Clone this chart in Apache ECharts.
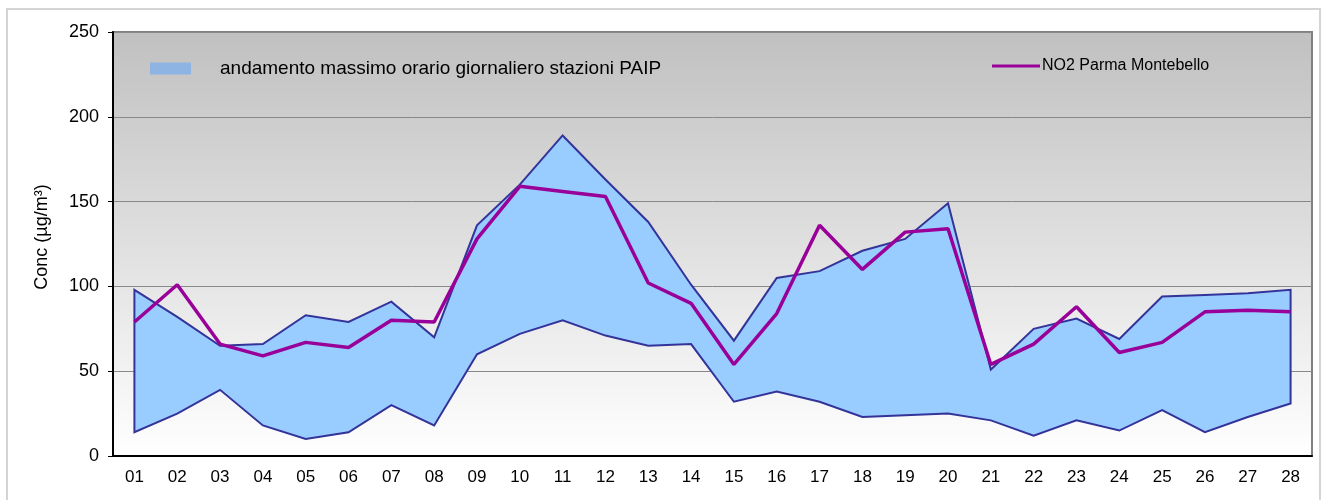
<!DOCTYPE html>
<html>
<head>
    <meta charset="UTF-8">
    <title>NO2 Parma Montebello</title>
    <script type="text/javascript" src="https://cdn.jsdelivr.net/npm/echarts@6/dist/echarts.min.js"></script>
    <style>
        *{margin:0;padding:0}
        html,body{
            width:100%;
            height:100%;
            background:#fff;
        }
        #frame{
            position:absolute;
            left:6px;
            top:8px;
            width:1311px;
            height:500px;
            border:2px solid #d4d4d4;
        }
        #main{
            position:absolute;
            left:0;
            top:0;
            width:1322px;
            height:500px;
        }
    </style>
</head>
<body>
<div id="frame"></div>
<div id="main"></div>

<script type="text/javascript">
    // giorni del mese
    var giorni = ['01','02','03','04','05','06','07','08','09','10','11','12','13','14',
                  '15','16','17','18','19','20','21','22','23','24','25','26','27','28'];
    // massimo orario giornaliero stazioni PAIP: valore massimo e minimo tra le stazioni
    var maxPaip = [98, 82, 65, 66, 83, 79, 91, 70, 136, 160, 189, 163, 138, 101,
                   68, 105, 109, 121, 128, 149, 51, 75, 81, 69, 94, 95, 96, 98];
    var minPaip = [14, 25, 39, 18, 10, 14, 30, 18, 60, 72, 80, 71, 65, 66,
                   32, 38, 32, 23, 24, 25, 21, 12, 21, 15, 27, 14, 23, 31];
    // NO2 Parma Montebello
    var no2 = [79, 101, 66, 59, 67, 64, 80, 79, 128, 159, 156, 153, 102, 90,
               54, 84, 136, 110, 132, 134, 54, 66, 88, 61, 67, 85, 86, 85];

    var nomeBanda = 'andamento massimo orario giornaliero stazioni PAIP';
    var nomeNo2 = 'NO2 Parma Montebello';

    var option = {
        animation: false,
        textStyle: {fontFamily: 'Liberation Sans, Arial, sans-serif'},
        grid: {
            left: 113,
            top: 32,
            right: 10,
            bottom: 44,
            show: true,
            borderColor: '#808080',
            borderWidth: 2,
            backgroundColor: {
                type: 'linear', x: 0, y: 0, x2: 0, y2: 1,
                colorStops: [
                    {offset: 0, color: '#c0c0c0'},
                    {offset: 1, color: '#ffffff'}
                ]
            }
        },
        legend: [
            {
                data: [{name: nomeBanda, icon: 'rect', itemStyle: {color: '#8db4e2'}}],
                left: 145,
                top: 54,
                itemWidth: 41,
                itemHeight: 12,
                textStyle: {fontSize: 19, color: '#000', padding: [0, 0, 0, 24]}
            },
            {
                data: [{name: nomeNo2, icon: 'rect', itemStyle: {color: '#990099'}}],
                left: 987,
                top: 53,
                itemWidth: 48,
                itemHeight: 3,
                textStyle: {fontSize: 16, color: '#000', padding: [0, 0, 0, -3]}
            }
        ],
        xAxis: {
            type: 'category',
            data: giorni,
            boundaryGap: true,
            axisLine: {lineStyle: {color: '#000', width: 2}},
            axisTick: {show: false},
            axisLabel: {color: '#000', fontSize: 17, margin: 13}
        },
        yAxis: {
            type: 'value',
            min: 0,
            max: 250,
            interval: 50,
            name: 'Conc (µg/m³)',
            nameLocation: 'middle',
            nameRotate: 90,
            nameGap: 62,
            nameTextStyle: {color: '#000', fontSize: 18, padding: [0, 0, 0, 14]},
            axisLine: {show: true, lineStyle: {color: '#000', width: 2}},
            axisTick: {show: true, length: 5, lineStyle: {color: '#000'}},
            axisLabel: {color: '#000', fontSize: 18, margin: 14},
            splitLine: {lineStyle: {color: '#888', width: 1}}
        },
        series: [
            {
                name: nomeBanda,
                type: 'custom',
                itemStyle: {color: '#99ccff'},
                data: giorni.map(function (g, i) { return [i, maxPaip[i]]; }),
                encode: {x: 0, y: 1},
                z: 2,
                renderItem: function (params, api) {
                    if (params.dataIndex !== 0) return null;
                    var pts = [];
                    for (var i = 0; i < giorni.length; i++) {
                        pts.push(api.coord([i, maxPaip[i]]));
                    }
                    for (var j = giorni.length - 1; j >= 0; j--) {
                        pts.push(api.coord([j, minPaip[j]]));
                    }
                    return {
                        type: 'polygon',
                        shape: {points: pts},
                        style: {fill: '#99ccff', stroke: '#333399', lineWidth: 2}
                    };
                }
            },
            {
                name: nomeNo2,
                type: 'line',
                data: no2,
                symbol: 'none',
                z: 3,
                itemStyle: {color: '#990099'},
                lineStyle: {color: '#990099', width: 3.5}
            }
        ]
    };

    var myChart = echarts.init(document.getElementById('main'));
    myChart.setOption(option);
</script>
</body>
</html>
